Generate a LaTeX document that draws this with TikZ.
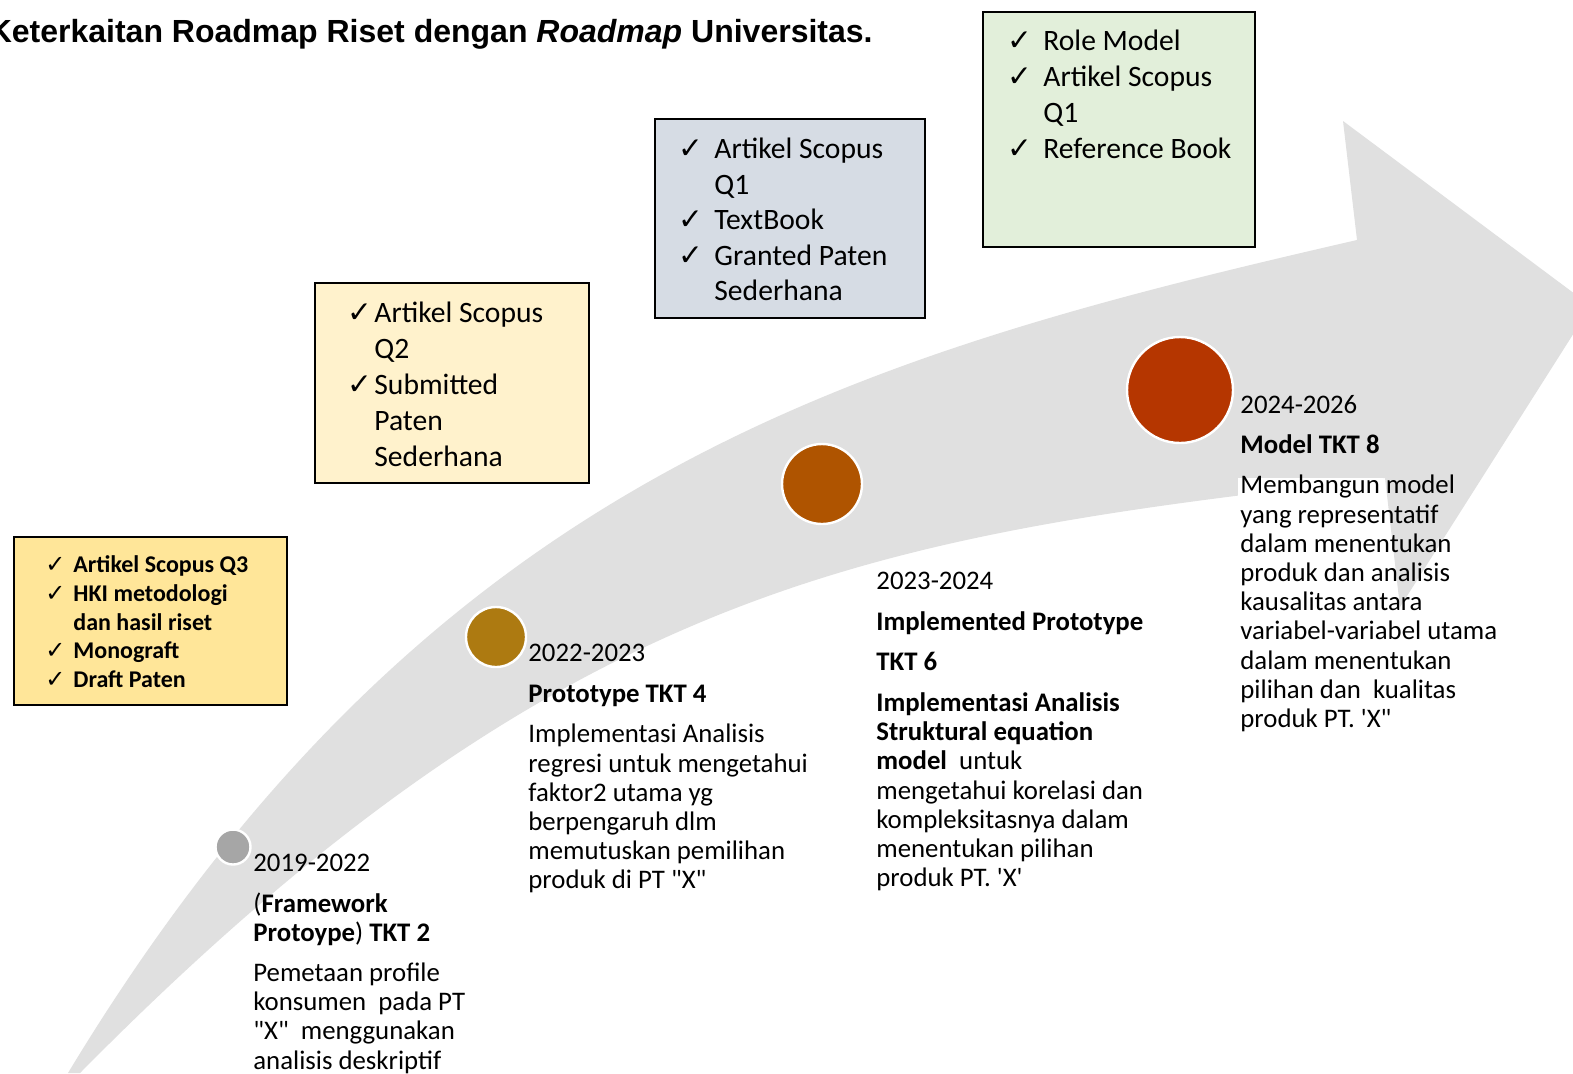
\documentclass[tikz,border=0pt]{standalone}
\usepackage{fontspec}
\usepackage{graphicx}
\setmainfont{Carlito}
\newfontfamily\titlefont{Liberation Sans}
\newfontfamily\chkfont{DejaVu Sans}
\usetikzlibrary{fit}
\definecolor{arrowgray}{HTML}{E0E0E0}
\definecolor{dotA}{HTML}{A6A6A6}
\definecolor{dotB}{HTML}{AD7A11}
\definecolor{dotC}{HTML}{AF5400}
\definecolor{dotD}{HTML}{B53600}
\definecolor{boxAcol}{HTML}{FFE699}
\definecolor{boxBcol}{HTML}{FFF2CC}
\definecolor{boxCcol}{HTML}{D6DCE4}
\definecolor{boxDcol}{HTML}{E2EFDA}
\newcommand\topstrut[1]{\rule{0pt}{#1}}
\newcommand\tick[1]{\makebox[#1][l]{\scalebox{1.0}{\chkfont ✓}}}
\newcommand\notick[1]{\makebox[#1]{}}
\newcommand\dq{\textquotedbl}
\tikzset{
  bodytext/.style={anchor=north west, inner sep=0pt, align=left, font=\fontsize{13.4pt}{14.6pt}\selectfont},
  boxtext/.style={anchor=north west, inner sep=0pt, align=left, font=\fontsize{14.8pt}{#1}\selectfont},
  boxAtext/.style={anchor=north west, inner sep=0pt, align=left, font=\bfseries\fontsize{12pt}{14.4pt}\selectfont},
  panel/.style={draw=black, line width=1pt, inner sep=0pt},
  dot/.style={circle, draw=white, line width=1.2pt, inner sep=0pt},
}
\begin{document}
\begin{tikzpicture}[x=0.5pt,y=-0.5pt]
\useasboundingbox (0,0) rectangle (1573,1073);
\fill[white] (0,0) rectangle (1573,1073);
% curved arrow
\fill[arrowgray] (68,1073) .. controls (430,474) and (857,355) .. (1357,240)
  -- (1343,121) -- (1591,306) -- (1400,607) -- (1385,478)
  .. controls (885,536) and (572,575) .. (80,1073) -- cycle;
% white text box behind last description
\node[fill=white, inner sep=0pt, fit={(1238,478) (1383,745)}] (t4bg) {};
% milestone dots
\node[dot, fill=dotA, minimum size=17.5pt] (d1) at (233,847) {};
\node[dot, fill=dotB, minimum size=30pt] (d2) at (496,637) {};
\node[dot, fill=dotC, minimum size=40pt] (d3) at (822,484) {};
\node[dot, fill=dotD, minimum size=53pt] (d4) at (1180,390) {};
% title
\node[anchor=base east, inner sep=0pt, font=\titlefont\bfseries\fontsize{16pt}{19pt}\selectfont] (title) at (873,42)
  {Keterkaitan Roadmap Riset dengan \textit{Roadmap} Universitas.};
% output boxes
\node[panel, fill=boxAcol, fit={(14,537) (287,705)}] (boxA) {};
\node[boxAtext] (boxAt) at (45,552) {\topstrut{10pt}\tick{14pt}Artikel Scopus Q3\\
  \tick{14pt}HKI metodologi\\ \notick{14pt}dan hasil riset\\ \tick{14pt}Monograft\\ \tick{14pt}Draft Paten};
\node[panel, fill=boxBcol, fit={(315,283) (589,483)}] (boxB) {};
\node[boxtext=18pt] (boxBt) at (347,298) {\topstrut{12pt}\tick{13.5pt}Artikel Scopus\\
  \notick{13.5pt}Q2\\ \tick{13.5pt}Submitted\\ \notick{13.5pt}Paten\\ \notick{13.5pt}Sederhana};
\node[panel, fill=boxCcol, fit={(655,119) (925,318)}] (boxC) {};
\node[boxtext=17.8pt] (boxCt) at (678,134) {\topstrut{12pt}\tick{18pt}Artikel Scopus\\
  \notick{18pt}Q1\\ \tick{18pt}TextBook\\ \tick{18pt}Granted Paten\\ \notick{18pt}Sederhana};
\node[panel, fill=boxDcol, fit={(983,12) (1255,247)}] (boxD) {};
\node[boxtext=18pt] (boxDt) at (1007,26) {\topstrut{12pt}\tick{18pt}Role Model\\
  \tick{18pt}Artikel Scopus\\ \notick{18pt}Q1\\ \tick{18pt}Reference Book};
% milestone texts
\node[bodytext] (t1) at (253,851) {\topstrut{10pt}2019-2022\\[5.75pt]
  (\textbf{Framework}\\ \textbf{Protoype}) \textbf{TKT 2}\\[5.5pt]
  Pemetaan profile\\ konsumen\ \ pada PT\\ \dq X\dq\ \ menggunakan\\ analisis deskriptif};
\node[bodytext] (t2) at (528,641) {\topstrut{10pt}2022-2023\\[5.75pt]
  \textbf{Prototype TKT 4}\\[5.75pt]
  Implementasi Analisis\\ regresi untuk mengetahui\\ faktor2 utama yg\\ berpengaruh dlm\\ memutuskan pemilihan\\ produk di PT \dq X\dq};
\node[bodytext] (t3) at (876,569) {\topstrut{10pt}2023-2024\\[5.75pt]
  \textbf{Implemented Prototype}\\[5.75pt]
  \textbf{TKT 6}\\[5.75pt]
  \textbf{Implementasi Analisis}\\ \textbf{Struktural equation}\\ \textbf{model}\ \ untuk\\ mengetahui korelasi dan\\ kompleksitasnya dalam\\ menentukan pilihan\\ produk PT. \textquotesingle X\textquotesingle};
\node[bodytext] (t4) at (1240,393) {\topstrut{10pt}2024-2026\\[5.5pt]
  \textbf{Model TKT 8}\\[5.5pt]
  Membangun model\\ yang representatif\\ dalam menentukan\\ produk dan analisis\\ kausalitas antara\\ variabel-variabel utama\\ dalam menentukan\\ pilihan dan\ \ kualitas\\ produk PT. \textquotesingle X\dq};
\end{tikzpicture}
\end{document}
